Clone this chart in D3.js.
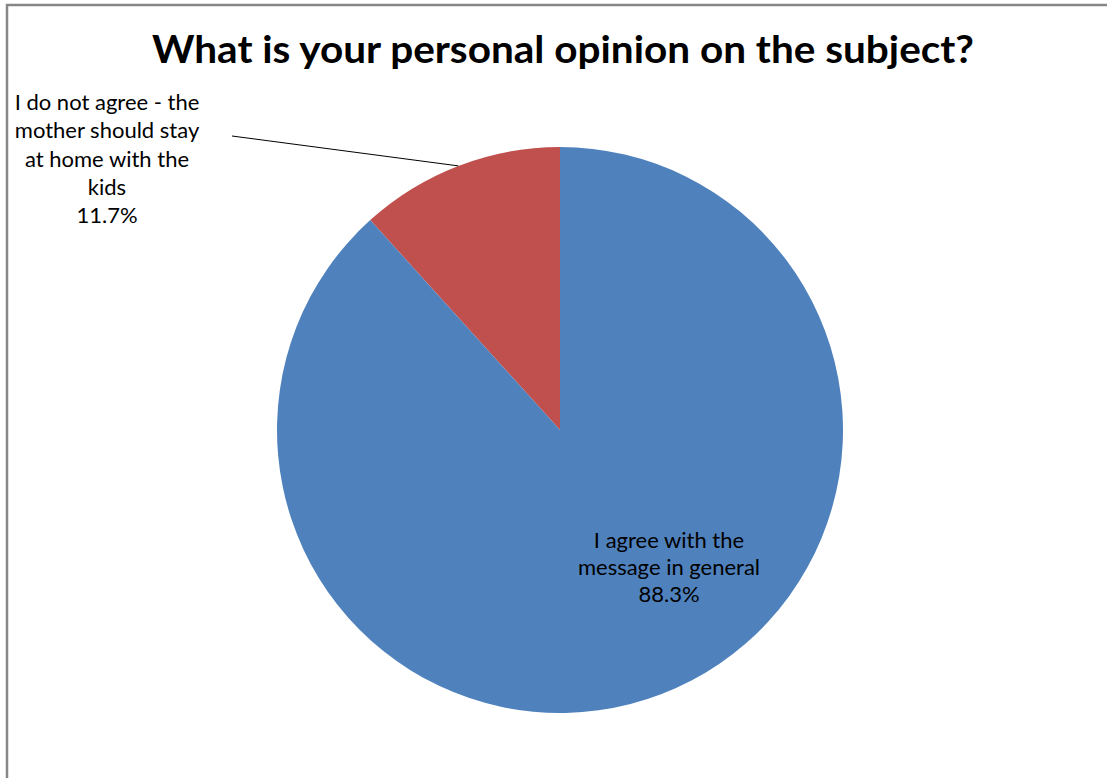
<!DOCTYPE html>
<html><head><meta charset="utf-8">
<script src="https://cdn.jsdelivr.net/npm/d3@7"></script>
<style>html,body{margin:0;padding:0;background:#fff;overflow:hidden}</style>
</head><body>
<script>
const categories = ["I do not agree - the mother should stay at home with the kids", "I agree with the message in general"];
const values = [11.7, 88.3];
const labelLines = [["I do not agree - the", "mother should stay", "at home with the", "kids", "11.7%"], ["I agree with the", "message in general", "88.3%"]];
const colors = ["#C0504D", "#4F81BD"];
const title = "What is your personal opinion on the subject?";

const W = 1107, H = 778;
const svg = d3.select("body").append("svg").attr("width", W).attr("height", H);
svg.append("rect").attr("x", 7).attr("y", 5).attr("width", 1200).attr("height", 900)
  .attr("fill", "#fff").attr("stroke", "#878787").attr("stroke-width", 2.5);

svg.append("text").attr("x", 563).attr("y", 63).attr("text-anchor", "middle")
  .attr("font-family", "Lato, 'Open Sans', sans-serif").attr("font-weight", "bold")
  .attr("font-size", 38).attr("textLength", 822).attr("lengthAdjust", "spacingAndGlyphs")
  .text(title);

const cx = 560, cy = 430, r = 283;
const total = d3.sum(values);
const start = -2 * Math.PI * values[0] / total;
const pie = d3.pie().sort(null).startAngle(start).endAngle(start + 2 * Math.PI);
const arcs = pie(values);
const arc = d3.arc().innerRadius(0).outerRadius(r);
const g = svg.append("g").attr("transform", `translate(${cx},${cy})`);
g.selectAll("path").data(arcs).join("path").attr("d", arc).attr("fill", (d, i) => colors[i]);

// leader line for small slice
const mid = (arcs[0].startAngle + arcs[0].endAngle) / 2;
const ex = cx + r * Math.sin(mid), ey = cy - r * Math.cos(mid);
svg.append("line").attr("x1", 232).attr("y1", 136).attr("x2", ex).attr("y2", ey)
  .attr("stroke", "#000").attr("stroke-width", 1);

const font = "Lato, 'Open Sans', sans-serif";
function label(lines, x, y0, dy, size) {
  const t = svg.append("text").attr("text-anchor", "middle").attr("font-family", font)
    .attr("font-size", size).attr("fill", "#000");
  lines.forEach((l, i) => t.append("tspan").attr("x", x).attr("y", y0 + i * dy).text(l));
}
label(labelLines[0], 107, 110, 28.3, 22);
label(labelLines[1], 669, 548, 27, 22);
</script>
</body></html>
